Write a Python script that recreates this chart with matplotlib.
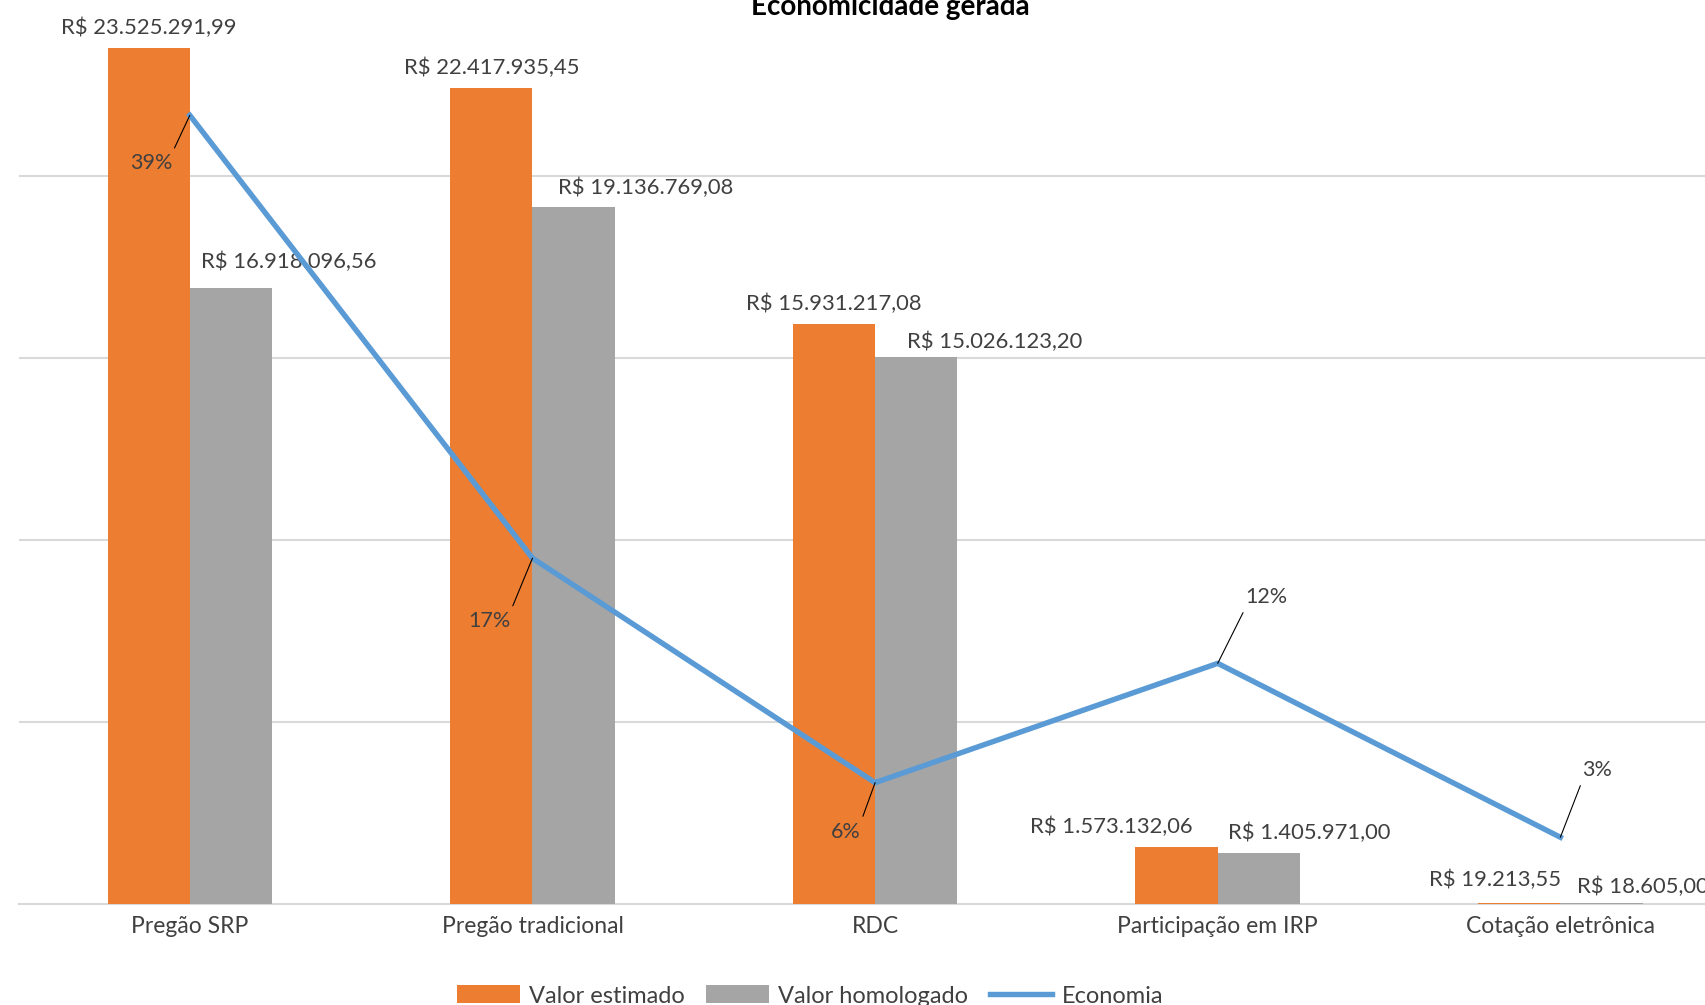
import matplotlib.pyplot as plt
import numpy as np

plt.rcParams['font.family'] = ['Lato', 'DejaVu Sans']

categorias = ['Pregão SRP', 'Pregão tradicional', 'RDC', 'Participação em IRP', 'Cotação eletrônica']
valor_estimado = [23525291.99, 22417935.45, 15931217.08, 1573132.06, 19213.55]
valor_homologado = [16918096.56, 19136769.08, 15026123.20, 1405971.00, 18605.00]
economia = [0.390, 0.171, 0.060, 0.119, 0.033]
rotulos_economia = ['39%', '17%', '6%', '12%', '3%']

# deslocamento dos rótulos (pixels) em relação ao topo das barras / pontos da linha
desloc_est = [(0, 20), (0, 20), (0, 20), (-65, 20), (-24, 23)]
desloc_hom = [(58, 26), (72, 20), (78, 15), (50, 20), (41, 16)]
desloc_eco = [(-39, -48), (-43, -63), (-29, -49), (49, 66), (37, 67)]
canto_eco = [(1, 1), (1, 1), (1, 1), (0, 0), (0, 0)]

laranja = '#ED7D31'
cinza = '#A5A5A5'
azul = '#5B9BD5'
texto = '#404040'


def moeda(v):
    s = f'{v:,.2f}'.replace(',', '_').replace('.', ',').replace('_', '.')
    return 'R$ ' + s


fig = plt.figure(figsize=(17.06, 10.05), dpi=100)
ax = fig.add_axes([0.01085, 0.1005, 1.0042, 0.9055])

x = np.arange(len(categorias))
w = 0.24
b1 = ax.bar(x - w / 2, valor_estimado, w, color=laranja, label='Valor estimado', zorder=3)
b2 = ax.bar(x + w / 2, valor_homologado, w, color=cinza, label='Valor homologado', zorder=3)

for i in range(len(x)):
    ax.annotate(moeda(valor_estimado[i]), (x[i] - w / 2, valor_estimado[i]),
                xytext=desloc_est[i], textcoords='offset pixels',
                ha='center', va='center', fontsize=15.8, color=texto)
    ax.annotate(moeda(valor_homologado[i]), (x[i] + w / 2, valor_homologado[i]),
                xytext=desloc_hom[i], textcoords='offset pixels',
                ha='center', va='center', fontsize=15.8, color=texto)

ax.set_xlim(-0.5, 4.5)
ax.set_ylim(0, 25000000)
ax.set_yticks([5e6, 10e6, 15e6, 20e6, 25e6])
ax.yaxis.grid(True, color='#D9D9D9', lw=1.5, zorder=0)
ax.set_yticklabels([])
ax.tick_params(axis='y', length=0)
ax.set_xticks(x)
ax.set_xticklabels(categorias, fontsize=16.5, color=texto)
ax.tick_params(axis='x', length=0, pad=9)
for s in ['top', 'right', 'left']:
    ax.spines[s].set_visible(False)
ax.spines['bottom'].set_color('#D9D9D9')
ax.spines['bottom'].set_linewidth(1.5)
ax.spines['bottom'].set_zorder(1)

ax2 = ax.twinx()
linha, = ax2.plot(x, economia, color=azul, lw=3.9, label='Economia', zorder=3)
ax2.set_ylim(0, 0.45)
ax2.axis('off')
for i in range(len(x)):
    ax2.annotate(rotulos_economia[i], (x[i], economia[i]),
                 xytext=desloc_eco[i], textcoords='offset pixels',
                 ha='center', va='center', fontsize=15.5, color=texto,
                 arrowprops=dict(arrowstyle='-', color='black', lw=0.8,
                                 relpos=canto_eco[i], shrinkA=2, shrinkB=0))

fig.text(0.522, 0.993, 'Economicidade gerada', ha='center', va='center',
         fontsize=20, fontweight='bold', color='black')

fig.legend(handles=[b1, b2, linha], loc='center', bbox_to_anchor=(0.475, 0.009),
           ncol=3, frameon=False, fontsize=17, labelcolor=texto,
           handlelength=2.65, handleheight=0.8, handletextpad=0.4, columnspacing=0.9)

fig.savefig('out.png', dpi=100)
